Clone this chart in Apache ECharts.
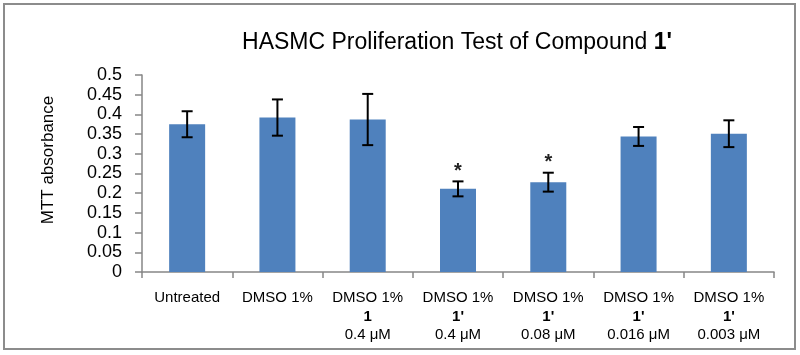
<!DOCTYPE html>
<html>
<head>
<meta charset="UTF-8">
<title>HASMC Proliferation Test</title>
<script src="https://cdn.jsdelivr.net/npm/echarts@6/dist/echarts.min.js"></script>
<style>
body {
    padding: 0;
    margin: 0;
    background: #fff;
}
#main {
    width: 800px;
    height: 355px;
}
</style>
</head>
<body>
<div id="main"></div>
<script>
// data
var treatment = ['Untreated', 'DMSO 1%', 'DMSO 1%', 'DMSO 1%', 'DMSO 1%', 'DMSO 1%', 'DMSO 1%'];
var compound = ['', '', '1', "1'", "1'", "1'", "1'"];
var dose = ['', '', '0.4 μM', '0.4 μM', '0.08 μM', '0.016 μM', '0.003 μM'];
var absorbance = [0.375, 0.392, 0.387, 0.211, 0.228, 0.344, 0.351];
var errorSize = [0.033, 0.046, 0.065, 0.019, 0.024, 0.024, 0.034];
var starred = [0, 0, 0, 1, 1, 0, 0];
var yTicks = [0, 0.05, 0.1, 0.15, 0.2, 0.25, 0.3, 0.35, 0.4, 0.45, 0.5];

var cats = treatment.map(function(t, i) { return String(i); });

var errData = absorbance.map(function(v, i) {
    return [i, v - errorSize[i], v + errorSize[i], starred[i]];
});

var chart = echarts.init(document.getElementById('main'));

var option = {
    animation: false,
    title: {
        text: "{n|HASMC Proliferation Test of Compound }{b|1'}",
        left: 452,
        top: 26,
        textAlign: 'center',
        textStyle: {
            fontWeight: 'normal',
            rich: {
                n: { fontFamily: 'Liberation Sans', fontSize: 23, fontWeight: 'normal', color: '#000' },
                b: { fontFamily: 'Liberation Sans', fontSize: 23, fontWeight: 'bold', color: '#000' }
            }
        }
    },
    grid: { left: 142, right: 26, top: 75, bottom: 83 },
    xAxis: {
        type: 'category',
        data: cats,
        boundaryGap: true,
        axisLine: { lineStyle: { color: '#868686', width: 1.5 } },
        axisTick: { show: true, length: 6, alignWithLabel: false, lineStyle: { color: '#868686', width: 1.5 } },
        axisLabel: {
            interval: 0,
            margin: 17,
            lineHeight: 18.5,
            fontFamily: 'Liberation Sans',
            fontSize: 15,
            color: '#000',
            formatter: function(val) {
                var i = +val;
                var s = treatment[i];
                if (compound[i]) s += '\n{b|' + compound[i] + '}';
                if (dose[i]) s += '\n' + dose[i];
                return s;
            },
            rich: {
                b: { fontFamily: 'Liberation Sans', fontSize: 15, fontWeight: 'bold', color: '#000', lineHeight: 18.5 }
            }
        }
    },
    yAxis: {
        type: 'value',
        min: 0,
        max: 0.5,
        interval: 0.05,
        splitLine: { show: false },
        axisLine: { show: true, lineStyle: { color: '#868686', width: 1.5 } },
        axisTick: { show: true, length: 7, lineStyle: { color: '#868686', width: 1.5 } },
        axisLabel: {
            margin: 20,
            fontFamily: 'Liberation Sans',
            fontSize: 18,
            color: '#000',
            formatter: function(v) {
                var best = yTicks.reduce(function(a, b) { return Math.abs(b - v) < Math.abs(a - v) ? b : a; });
                return String(best);
            }
        }
    },
    graphic: [
        {
            type: 'rect',
            shape: { x: 4, y: 4, width: 791, height: 345 },
            style: { fill: 'none', stroke: '#8c8c8c', lineWidth: 2 },
            silent: true
        },
        {
            type: 'text',
            x: 48,
            y: 160,
            rotation: Math.PI / 2,
            style: {
                text: 'MTT absorbance',
                fontFamily: 'Liberation Sans',
                fontSize: 17,
                fill: '#000',
                align: 'center',
                verticalAlign: 'middle'
            }
        }
    ],
    series: [
        {
            type: 'bar',
            data: absorbance,
            barWidth: 36,
            itemStyle: { color: '#4f81bd' }
        },
        {
            type: 'custom',
            data: errData,
            encode: { x: 0, y: [1, 2] },
            z: 5,
            renderItem: function(params, api) {
                var i = api.value(0);
                var lo = api.coord([i, api.value(1)]);
                var hi = api.coord([i, api.value(2)]);
                var cap = 5.5;
                var ls = { stroke: '#000', lineWidth: 2 };
                var kids = [
                    { type: 'line', shape: { x1: hi[0], y1: hi[1], x2: lo[0], y2: lo[1] }, style: ls },
                    { type: 'line', shape: { x1: hi[0] - cap, y1: hi[1], x2: hi[0] + cap, y2: hi[1] }, style: ls },
                    { type: 'line', shape: { x1: lo[0] - cap, y1: lo[1], x2: lo[0] + cap, y2: lo[1] }, style: ls }
                ];
                if (api.value(3)) {
                    kids.push({
                        type: 'text',
                        x: hi[0],
                        y: hi[1] - 10,
                        style: {
                            text: '*',
                            fontFamily: 'Liberation Sans',
                            fontSize: 20,
                            fontWeight: 'bold',
                            fill: '#222',
                            align: 'center',
                            verticalAlign: 'middle'
                        }
                    });
                }
                return { type: 'group', children: kids };
            }
        }
    ]
};

chart.setOption(option);
</script>
</body>
</html>
